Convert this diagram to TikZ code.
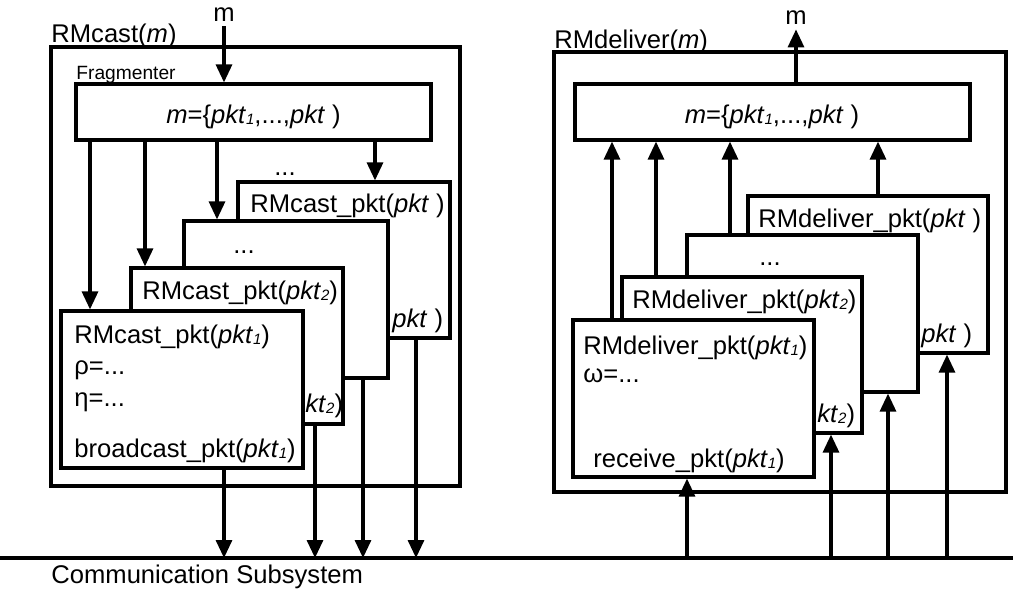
\documentclass[tikz,border=0pt]{standalone}
\usepackage{fontspec}
\setmainfont{Liberation Sans}
\usetikzlibrary{arrows.meta,backgrounds}
\pgfdeclarelayer{edgelayer}
\pgfdeclarelayer{nodelayer}
\pgfsetlayers{background,edgelayer,nodelayer,main}
\tikzstyle{frame}=[draw=black,line width=1.6pt,inner sep=0pt]
\tikzstyle{box}=[frame,fill=white]
\tikzstyle{txt}=[inner sep=0pt,anchor=base west]
\tikzstyle{ctxt}=[inner sep=0pt,anchor=base]
\tikzstyle{small}=[txt,font=\fontsize{9.6}{11}\selectfont]
\tikzstyle{arr}=[line width=1.6pt,-{Triangle[length=9pt,width=8pt]}]
\tikzstyle{bus}=[line width=1.6pt]
\newcommand{\pk}[1]{\textit{pkt}\raisebox{-0.5pt}{\fontsize{7.5}{7.5}\selectfont\itshape #1}}

\begin{document}
\begin{tikzpicture}[x=0.5pt,y=-0.5pt,font=\fontsize{12.8}{15}\selectfont]
	\useasboundingbox (0,0) rectangle (1013,595);
	\begin{pgfonlayer}{nodelayer}
		% sender
		\node [style=frame, minimum width=204.5pt, minimum height=219.5pt] (outL) at (255.5,266.5) {};
		\node [style=txt] (rmcast) at (51,42) {RMcast(\textit{m})};
		\node [style=ctxt, inner sep=2.5pt] (min) at (224,21) {m};
		\node [style=small] (fraglbl) at (76,79) {Fragmenter};
		\node [style=box, minimum width=177.5pt, minimum height=28pt] (frag) at (253.5,112) {};
		\node [style=ctxt] (fragtxt) at (253.5,123) {\textit{m}=\{\pk{1},...,\textit{pkt} )};
		\node [style=ctxt] (dotsL) at (285,175) {...};
		\node [style=box, minimum width=106pt, minimum height=78pt] (c4) at (344,260) {};
		\node [style=txt] (c4txt) at (250,212) {RMcast\_pkt(\textit{pkt} )};
		\node [style=txt] (c4end) at (392,327) {\textit{pkt} )};
		\node [style=box, minimum width=102pt, minimum height=78.5pt] (c3) at (286,299.5) {};
		\node [style=ctxt] (c3txt) at (244,253) {...};
		\node [style=box, minimum width=106pt, minimum height=78pt] (c2) at (237,346) {};
		\node [style=txt] (c2txt) at (142,299) {RMcast\_pkt(\pk{2})};
		\node [style=txt] (c2end) at (305,412) {\textit{kt}\raisebox{-0.5pt}{\fontsize{7.5}{7.5}\selectfont\itshape 2})};
		\node [style=box, minimum width=121pt, minimum height=78.5pt] (c1) at (182,389.5) {};
		\node [style=txt] (c1txt) at (74,343) {RMcast\_pkt(\pk{1})};
		\node [style=txt] (rho) at (74,374) {ρ=...};
		\node [style=txt] (eta) at (74,406) {η=...};
		\node [style=txt] (bcast) at (74,457) {broadcast\_pkt(\pk{1})};
		% receiver
		\node [style=frame, minimum width=226pt, minimum height=220pt] (outR) at (780,272) {};
		\node [style=txt] (rmdel) at (554,48) {RMdeliver(\textit{m})};
		\node [style=ctxt, inner sep=2.5pt] (mout) at (796,24) {m};
		\node [style=box, minimum width=197.5pt, minimum height=28pt] (asm) at (772.5,112) {};
		\node [style=ctxt] (asmtxt) at (772,123) {\textit{m}=\{\pk{1},...,\textit{pkt} )};
		\node [style=box, minimum width=120pt, minimum height=78.5pt] (d4) at (868,274.5) {};
		\node [style=txt] (d4txt) at (758,227) {RMdeliver\_pkt(\textit{pkt} )};
		\node [style=txt] (d4end) at (921,342) {\textit{pkt} )};
		\node [style=box, minimum width=115.5pt, minimum height=78.5pt] (d3) at (802.5,313.5) {};
		\node [style=ctxt] (d3txt) at (770,265) {...};
		\node [style=box, minimum width=120pt, minimum height=78pt] (d2) at (742,355) {};
		\node [style=txt] (d2txt) at (632,308) {RMdeliver\_pkt(\pk{2})};
		\node [style=txt] (d2end) at (817,422) {\textit{kt}\raisebox{-0.5pt}{\fontsize{7.5}{7.5}\selectfont\itshape 2})};
		\node [style=box, minimum width=120.5pt, minimum height=78.5pt] (d1) at (693.5,398.5) {};
		\node [style=txt] (d1txt) at (583,354) {RMdeliver\_pkt(\pk{1})};
		\node [style=txt] (omega) at (583,382) {ω=...};
		\node [style=txt] (recv) at (593,467) {receive\_pkt(\pk{1})};
		% bus
		\coordinate (busL) at (0,558);
		\coordinate (busR) at (1013,558);
		\node [style=txt] (comm) at (51,583) {Communication Subsystem};
	\end{pgfonlayer}
	\begin{pgfonlayer}{edgelayer}
		\draw [style=bus] (busL) to (busR);
		\draw [style=arr] (min) to (min |- frag.north);
		\draw [style=arr] (90,0 |- frag.south) to (90,0 |- c1.north);
		\draw [style=arr] (145,0 |- frag.south) to (145,0 |- c2.north);
		\draw [style=arr] (217,0 |- frag.south) to (217,0 |- c3.north);
		\draw [style=arr] (375,0 |- frag.south) to (375,0 |- c4.north);
		\draw [style=arr] (224,0 |- c1.south) to (224,0 |- busL);
		\draw [style=arr] (315,0 |- c2.south) to (315,0 |- busL);
		\draw [style=arr] (363,0 |- c3.south) to (363,0 |- busL);
		\draw [style=arr] (416,0 |- c4.south) to (416,0 |- busL);
		\draw [style=arr] (asm.north -| mout) to (mout);
		\draw [style=arr] (612,0 |- d1.north) to (612,0 |- asm.south);
		\draw [style=arr] (656,0 |- d2.north) to (656,0 |- asm.south);
		\draw [style=arr] (730,0 |- d3.north) to (730,0 |- asm.south);
		\draw [style=arr] (878,0 |- d4.north) to (878,0 |- asm.south);
		\draw [style=arr] (687,0 |- busL) to (687,0 |- d1.south);
		\draw [style=arr] (831,0 |- busL) to (831,0 |- d2.south);
		\draw [style=arr] (888,0 |- busL) to (888,0 |- d3.south);
		\draw [style=arr] (947,0 |- busL) to (947,0 |- d4.south);
	\end{pgfonlayer}
\end{tikzpicture}
\end{document}
